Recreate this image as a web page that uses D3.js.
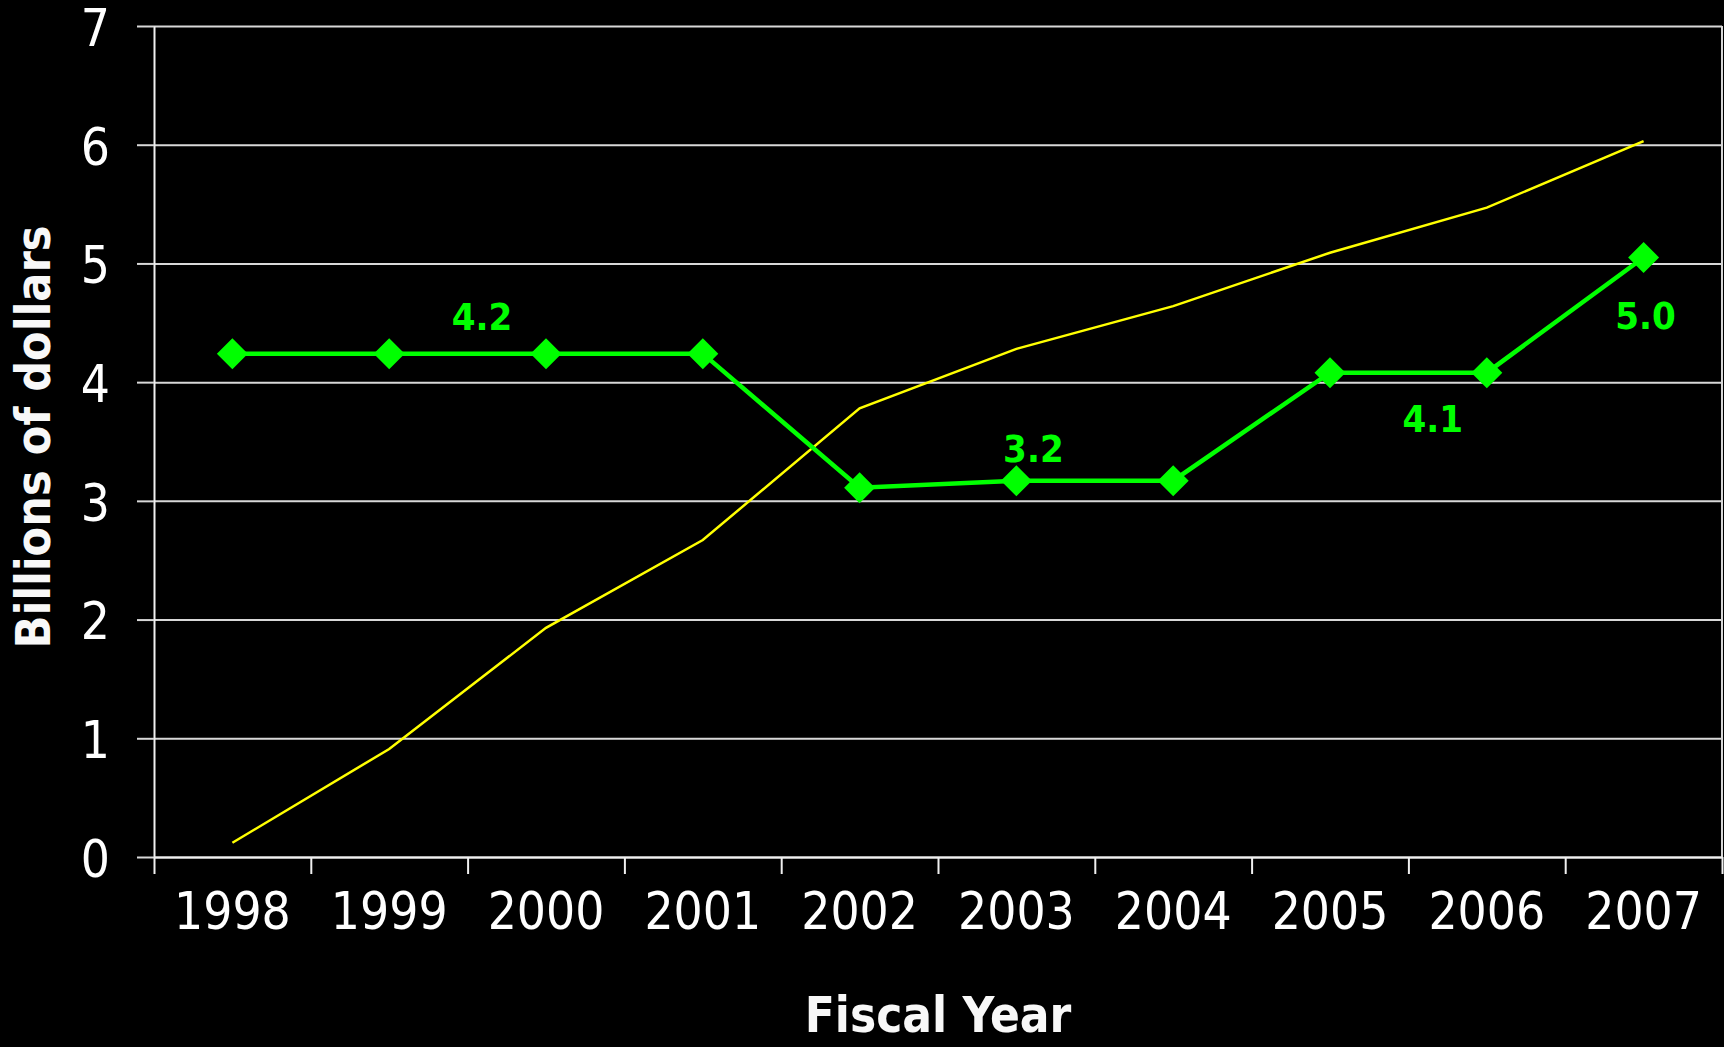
<!DOCTYPE html>
<html>
<head>
<meta charset="utf-8">
<script src="https://cdn.jsdelivr.net/npm/d3@7"></script>
<style>
  html, body { margin: 0; padding: 0; background: #000; }
  svg { display: block; }
  text { font-family: "DejaVu Sans Condensed", "DejaVu Sans", sans-serif; }
</style>
</head>
<body>
<div id="chart-area"></div>
<script>
// data
var years = ["1998", "1999", "2000", "2001", "2002", "2003", "2004", "2005", "2006", "2007"];
var yellowValues = [0.12, 0.91, 1.93, 2.67, 3.78, 4.28, 4.64, 5.09, 5.47, 6.03];
var greenValues = [4.24, 4.24, 4.24, 4.24, 3.11, 3.17, 3.17, 4.08, 4.08, 5.05];
var yTicks = [0, 1, 2, 3, 4, 5, 6, 7];
var labelYears = ["2000", "2003", "2006", "2007"];
var labelTexts = ["4.2", "3.2", "4.1", "5.0"];

// label placement relative to the point (layout, not data)
var labelOffsets = [[-64, -24], [17, -19], [-54, 59], [2, 72]];

var margin = { left: 154, right: 2, top: 26, bottom: 190 };
var W = 1724, H = 1047;
var width = W - margin.left - margin.right,
    height = H - margin.top - margin.bottom;

var svg = d3.select("#chart-area")
    .append("svg")
        .attr("width", W)
        .attr("height", H)
        .style("background", "#000");

var g = svg.append("g")
    .attr("transform", "translate(" + margin.left + ", " + margin.top + ")");

var x = d3.scaleBand().domain(years).range([0, width]).padding(0);
var xEdges = d3.scaleLinear().domain([0, years.length]).range([0, width]);
var y = d3.scaleLinear().domain([0, 7]).range([height, 0]);

// gridlines
var grid = g.append("g")
    .call(d3.axisLeft(y).tickValues(yTicks).tickSize(-width).tickFormat(""));
grid.select(".domain").remove();
grid.selectAll("line").attr("stroke", "#d8d8d8").attr("stroke-width", 2);

// right border
g.append("line")
    .attr("x1", width).attr("x2", width)
    .attr("y1", 0).attr("y2", height)
    .attr("stroke", "#d8d8d8").attr("stroke-width", 2);

// y axis
var yAxis = g.append("g")
    .call(d3.axisLeft(y).tickValues(yTicks).tickFormat(d3.format("d"))
        .tickSize(17).tickSizeOuter(0).tickPadding(27));
yAxis.select(".domain").attr("stroke", "#f0f0f0").attr("stroke-width", 2);
yAxis.selectAll("line").attr("stroke", "#d8d8d8").attr("stroke-width", 2);
yAxis.selectAll("text")
    .attr("fill", "#fff")
    .attr("font-size", 51)
    .attr("dy", "0.38em")
    .style("font-family", "'DejaVu Sans Condensed', 'DejaVu Sans', sans-serif");

// x axis: ticks on the band edges, labels in the middle
var xTickAxis = g.append("g")
    .attr("transform", "translate(0," + height + ")")
    .call(d3.axisBottom(xEdges).ticks(years.length).tickSize(17).tickSizeOuter(0).tickFormat(""));
xTickAxis.select(".domain").attr("stroke", "#f0f0f0").attr("stroke-width", 2);
xTickAxis.selectAll("line").attr("stroke", "#f0f0f0").attr("stroke-width", 2);

var xAxis = g.append("g")
    .attr("transform", "translate(0," + height + ")")
    .call(d3.axisBottom(x).tickSize(0).tickPadding(0));
xAxis.select(".domain").remove();
xAxis.selectAll("text")
    .attr("fill", "#fff")
    .attr("font-size", 51)
    .attr("y", 72)
    .attr("dy", 0)
    .style("font-family", "'DejaVu Sans Condensed', 'DejaVu Sans', sans-serif");

var cx = function(d, i) { return x(years[i]) + x.bandwidth() / 2; };

var valueLine = d3.line()
    .x(function(d, i) { return cx(d, i); })
    .y(function(d) { return y(d); });

// yellow line
g.append("path")
    .datum(yellowValues)
    .attr("fill", "none")
    .attr("stroke", "#ffff00")
    .attr("stroke-width", 2.5)
    .attr("d", valueLine);

// green line with diamonds
g.append("path")
    .datum(greenValues)
    .attr("fill", "none")
    .attr("stroke", "#00ff00")
    .attr("stroke-width", 4.5)
    .attr("d", valueLine);

var diamond = d3.symbol().type(d3.symbolSquare).size(480);
g.selectAll(".marker")
    .data(greenValues)
    .enter().append("path")
        .attr("class", "marker")
        .attr("d", diamond)
        .attr("fill", "#00ff00")
        .attr("transform", function(d, i) {
            return "translate(" + cx(d, i) + "," + y(d) + ") rotate(45)";
        });

// data labels
g.selectAll(".dlabel")
    .data(labelTexts)
    .enter().append("text")
        .attr("class", "dlabel")
        .attr("text-anchor", "middle")
        .attr("fill", "#00ff00")
        .attr("font-weight", "bold")
        .attr("font-size", 38)
        .attr("x", function(d, i) {
            return x(labelYears[i]) + x.bandwidth() / 2 + labelOffsets[i][0];
        })
        .attr("y", function(d, i) {
            var k = years.indexOf(labelYears[i]);
            return y(greenValues[k]) + labelOffsets[i][1];
        })
        .text(function(d) { return d; });

// axis titles
svg.append("text")
    .attr("text-anchor", "middle")
    .attr("fill", "#f8f8f8")
    .attr("font-weight", "bold")
    .attr("font-size", 48)
    .attr("transform", "translate(50,437) rotate(-90)")
    .text("Billions of dollars");

svg.append("text")
    .attr("text-anchor", "middle")
    .attr("fill", "#f8f8f8")
    .attr("font-weight", "bold")
    .attr("font-size", 49)
    .attr("x", margin.left + width / 2)
    .attr("y", 1032)
    .text("Fiscal Year");
</script>
</body>
</html>
